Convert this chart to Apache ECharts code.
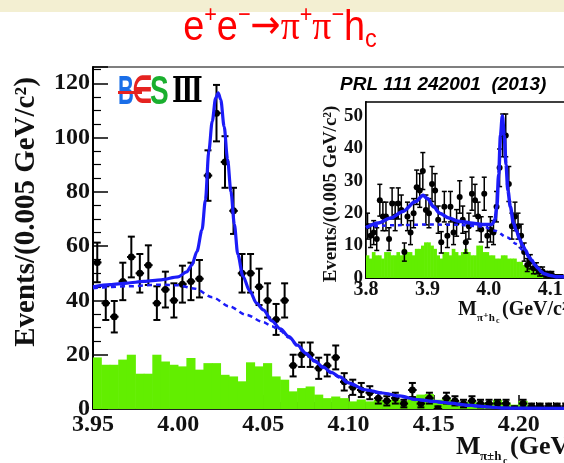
<!DOCTYPE html>
<html><head><meta charset="utf-8">
<script src="https://cdn.jsdelivr.net/npm/echarts@6/dist/echarts.min.js"></script>
<style>html,body{margin:0;padding:0;background:#fff}#c{width:564px;height:463px}</style>
</head><body><div id="c"></div>
<script>
// ---------------- main plot data ----------------
const mainMass = [3.9525,3.9575,3.9625,3.9675,3.9725,3.9775,3.9825,3.9875,3.9925,3.9975,
  4.0025,4.0075,4.0125,4.0175,4.0225,4.0275,4.0325,4.0375,4.0425,4.0475,
  4.0525,4.0575,4.0625,4.0675,4.0725,4.0775,4.0825,4.0875,4.0925,4.0975,
  4.1025,4.1075,4.1125,4.1175,4.1225,4.1275,4.1325,4.1375,4.1425,4.1475,
  4.1525,4.1575,4.1625,4.1675,4.1725,4.1775,4.1825,4.1875,4.1925,4.1975,
  4.2025,4.2075,4.2125,4.2175,4.2225,4.2275,4.2325];
const mainCounts = [54,39,34,47,56,50,53,39,44,40,
  46,47,48,86,109,91,73,50,50,45,
  40,33,40,16,20,20,15,16,19,10,
  8,7,6,4,3,4,2,7,2,4,
  0,4,3,2,3,2,2,2,2,0,
  2,1,1,1,1,1,1];
const mainErrors = [7.3,6.2,5.8,6.9,7.5,7.1,7.3,6.2,6.6,6.3,
  6.8,6.9,6.9,9.3,10.4,9.5,8.5,7.1,7.1,6.7,
  6.3,5.7,6.3,4.0,4.5,4.5,3.9,4.0,4.4,3.2,
  2.8,2.6,2.4,2.0,1.7,2.0,1.4,2.6,1.4,2.0,
  1.0,2.0,1.7,1.4,1.7,1.4,1.4,1.4,1.4,1.0,
  1.4,1.0,1.0,1.0,1.0,1.0,1.0];
const mainSidebandHist = [19.0,16.3,16.3,18.2,20.0,13.0,13.0,20.0,17.5,16.3,
  15.7,18.8,14.5,16.9,16.9,12.6,12.0,10.2,17.2,15.7,
  16.9,12.0,10.8,6.5,7.7,8.3,5.3,4.0,4.6,4.0,
  2.8,3.5,2.8,3.4,2.8,3.5,3.0,4.6,5.3,5.5,
  3.4,4.0,2.8,2.4,2.8,2.1,2.4,3.4,2.4,1.6,
  3.0,1.0,0.5,0.5,0.5,0.5,0.5];
const mainFitMass = [3.950,3.960,3.970,3.980,3.990,4.000,4.005,4.008,4.011,4.014,
  4.016,4.018,4.020,4.022,4.0235,4.025,4.027,4.029,4.031,4.033,
  4.035,4.038,4.042,4.046,4.050,4.055,4.060,4.065,4.070,4.075,
  4.080,4.085,4.090,4.095,4.100,4.110,4.120,4.130,4.140,4.150,
  4.160,4.170,4.180,4.190,4.200,4.250];
const mainFitTotal = [45.0,45.8,46.4,47.0,47.6,48.7,50.5,53,58,66,
  77,95,106,114.5,116.5,114,104,92,80,68,
  57,49,43.5,39,36.5,32.5,29.5,26.7,23.5,20.5,
  17.8,15.5,13.5,11.8,9.6,7.1,5.9,4.8,3.5,2.8,
  2.2,1.4,0.9,0.4,0.3,0.2];
const mainBkgMass = [3.950,3.970,3.990,4.000,4.010,4.020,4.030,4.040,4.050,4.055,
  4.060,4.065,4.070,4.075,4.080,4.085,4.090,4.095,4.100,4.110,
  4.120,4.130,4.140,4.150,4.160,4.170,4.180,4.190,4.200,4.250];
const mainBkgCurve = [44.5,45.2,45.8,45.6,44.3,41.2,37.8,34.7,32.0,30.5,
  28.8,26.3,23.2,20.2,17.5,15.2,13.2,11.5,9.3,6.9,
  5.7,4.6,3.3,2.6,2.0,1.2,0.8,0.3,0.2,0.1];

// ---------------- inset data ----------------
const insetMass = [3.8025,3.8075,3.8125,3.8175,3.8225,3.8275,3.8325,3.8375,3.8425,3.8475,
  3.8525,3.8575,3.8625,3.8675,3.8725,3.8775,3.8825,3.8875,3.8925,3.8975,
  3.9025,3.9075,3.9125,3.9175,3.9225,3.9275,3.9325,3.9375,3.9425,3.9475,
  3.9525,3.9575,3.9625,3.9675,3.9725,3.9775,3.9825,3.9875,3.9925,3.9975,
  4.0025,4.0075,4.0125,4.0175,4.0225,4.0275,4.0325,4.0375,4.0425,4.0475,
  4.0525,4.0575,4.0625,4.0675,4.0725,4.0775,4.0825,4.0875,4.0925,4.0975,
  4.1025,4.1075,4.1125,4.1175];
const insetCounts = [16,13,14,12,24,19,19,12,23,19,
  23,21,8,19,14,20,28,27,33,21,
  20,29,27,18,11,22,13,22,14,17,
  25,18,11,16,26,24,19,15,26,13,
  15,14,22,34,44,44,29,16,19,16,
  13,8,4,5,3,3,2,2,1,1,
  1,0,0,0];
const insetErrors = [4.0,3.6,3.7,3.5,4.9,4.4,4.4,3.5,4.8,4.4,
  4.8,4.6,2.8,4.4,3.7,4.5,5.3,5.2,5.7,4.6,
  4.5,5.4,5.2,4.2,3.3,4.7,3.6,4.7,3.7,4.1,
  5.0,4.2,3.3,4.0,5.1,4.9,4.4,3.9,5.1,3.6,
  3.9,3.7,4.7,5.8,6.6,6.6,5.4,4.0,4.4,4.0,
  3.6,2.8,2.0,2.2,1.7,1.7,1.4,1.4,1.0,1.0,
  1.0,1.0,1.0,1.0];
const insetSidebandHist = [7,6,8,7,7,6,8,8,7,7,
  8,7,9,8,8,7,9,9,10,11,
  11,10,9,7,6,8,8,7,9,8,
  7,8,9,8,7,7,10,10,8,8,
  7,7,6,6,7,7,6,6,6,5,
  5,4,4,3,3,2,2,1,1,1,
  1,0,0,0];
const insetFitMass = [3.800,3.820,3.840,3.860,3.880,3.893,3.900,3.910,3.920,3.935,
  3.950,3.970,3.990,4.005,4.010,4.013,4.016,4.019,4.022,4.025,
  4.028,4.031,4.035,4.040,4.045,4.050,4.055,4.060,4.065,4.070,
  4.075,4.080,4.085,4.090,4.100,4.110,4.150];
const insetFitTotal = [15.5,17,18.5,20.5,23.5,25.5,24.5,22,20,18.5,
  17.5,17,16.5,16.5,18,22,32,44,50,44,
  35,27,22,17,14.5,12,10,8.5,6.5,5.5,
  4,3,2,1.3,0.8,0.4,0.2];
const insetBkgMass = [3.800,3.850,3.900,3.950,3.990,4.010,4.030,4.045,4.055,4.060,
  4.065,4.070,4.075,4.080,4.085,4.090,4.100,4.110,4.150];
const insetBkgCurve = [15.8,16.3,16.5,16.4,15.9,14.6,12.5,10.5,8.6,8.0,
  6.3,5.3,3.9,2.9,1.9,1.2,0.7,0.3,0.1];

// tick labels
const mainXTickFmt = v => v.toFixed(2);
const insetXTickFmt = v => v.toFixed(1);

const BIN = 0.005;
const GREEN = '#62ee00';
const BLUE = '#1c1cf8';
const SERIF = '"Liberation Serif", "DejaVu Serif", serif';

function histItem(params, api) {
  const m = api.value(0), v = api.value(1);
  const a = api.coord([m - BIN / 2, 0]);
  const b = api.coord([m + BIN / 2, v]);
  return { type: 'rect', shape: { x: a[0] - 0.3, y: b[1], width: b[0] - a[0] + 0.6, height: a[1] - b[1] },
    style: { fill: GREEN } };
}
function errItem(lw, cap, r) {
  return function (params, api) {
    const m = api.value(0), v = api.value(1), e = api.value(2);
    const c = api.coord([m, v]);
    const l = api.coord([m - BIN / 2, v]);
    const rr = api.coord([m + BIN / 2, v]);
    const t = api.coord([m, v + e]);
    const b = api.coord([m, v - e]);
    const st = { stroke: '#000', lineWidth: lw };
    return { type: 'group', children: [
      { type: 'line', shape: { x1: l[0], y1: c[1], x2: rr[0], y2: c[1] }, style: st },
      { type: 'line', shape: { x1: c[0], y1: t[1], x2: c[0], y2: b[1] }, style: st },
      { type: 'line', shape: { x1: c[0] - cap, y1: t[1], x2: c[0] + cap, y2: t[1] }, style: st },
      { type: 'line', shape: { x1: c[0] - cap, y1: b[1], x2: c[0] + cap, y2: b[1] }, style: st },
      { type: 'circle', shape: { cx: c[0], cy: c[1], r: r }, style: { fill: '#000' } }
    ]};
  };
}

function lbl(size, extra) {
  return Object.assign({ fontSize: size, fontWeight: 'bold', fontFamily: SERIF, color: '#111' }, extra);
}

const chart = echarts.init(document.getElementById('c'), null, { renderer: 'canvas' });
const axisCommon = { type: 'value', splitLine: { show: false } };
chart.setOption({
  animation: false,
  backgroundColor: '#fff',
  grid: [
    { left: 93, top: 67, right: -40, bottom: 54, show: true, borderColor: '#555', borderWidth: 1.5, outerBoundsMode: 'none' },
    { left: 366, top: 102, right: -17, bottom: 185, show: true, backgroundColor: '#fff', borderColor: '#000', borderWidth: 1.5, z: 5, outerBoundsMode: 'none' }
  ],
  xAxis: [
    Object.assign({}, axisCommon, { gridIndex: 0, min: 3.95, max: 4.25, interval: 0.05,
      axisLine: { lineStyle: { color: '#222', width: 2 } },
      axisTick: { inside: true, length: 14, lineStyle: { color: '#000', width: 1.5 } },
      minorTick: { show: true, splitNumber: 5, length: 7, lineStyle: { color: '#000' } },
      axisLabel: lbl(24, { formatter: mainXTickFmt, margin: 4, showMaxLabel: false }) }),
    Object.assign({}, axisCommon, { gridIndex: 1, min: 3.8, max: 4.15, interval: 0.1,
      axisLine: { lineStyle: { color: '#111', width: 2 } },
      axisTick: { inside: true, length: 8, lineStyle: { color: '#000' } },
      minorTick: { show: true, splitNumber: 5, length: 4, lineStyle: { color: '#000' } },
      axisLabel: lbl(20, { formatter: insetXTickFmt, margin: 2, showMaxLabel: false }) })
  ],
  yAxis: [
    Object.assign({}, axisCommon, { gridIndex: 0, min: 0, max: 126, interval: 20,
      axisLine: { lineStyle: { color: '#000', width: 2 } },
      axisTick: { inside: true, length: 15, lineStyle: { color: '#000', width: 1.5 } },
      minorTick: { show: true, splitNumber: 4, length: 8, lineStyle: { color: '#000', width: 1.2 } },
      axisLabel: lbl(24, { margin: 3, showMaxLabel: false }) }),
    Object.assign({}, axisCommon, { gridIndex: 1, min: 0, max: 54.3, interval: 10,
      axisLine: { lineStyle: { color: '#000', width: 2 } },
      axisTick: { inside: true, length: 8, lineStyle: { color: '#000' } },
      minorTick: { show: true, splitNumber: 2, length: 4, lineStyle: { color: '#000' } },
      axisLabel: lbl(19, { margin: 3, showMaxLabel: false }) })
  ],
  series: [
    { type: 'custom', xAxisIndex: 0, yAxisIndex: 0, clip: true, z: 2, silent: true,
      renderItem: histItem, data: mainMass.map((m, i) => [m, mainSidebandHist[i]]) },
    { type: 'custom', xAxisIndex: 0, yAxisIndex: 0, clip: true, z: 3, silent: true,
      renderItem: errItem(2, 3.5, 3.5), data: mainMass.map((m, i) => [m, mainCounts[i], mainErrors[i]]) },
    { type: 'line', xAxisIndex: 0, yAxisIndex: 0, z: 4, symbol: 'none', smooth: 0.3, smoothMonotone: 'x',
      lineStyle: { color: BLUE, width: 2.5, type: [5, 4] }, data: mainBkgMass.map((m, i) => [m, mainBkgCurve[i]]) },
    { type: 'line', xAxisIndex: 0, yAxisIndex: 0, z: 5, symbol: 'none', smooth: 0.3, smoothMonotone: 'x',
      lineStyle: { color: BLUE, width: 3.2 }, data: mainFitMass.map((m, i) => [m, mainFitTotal[i]]) },

    { type: 'custom', xAxisIndex: 1, yAxisIndex: 1, clip: true, z: 6, silent: true,
      renderItem: histItem, data: insetMass.map((m, i) => [m, insetSidebandHist[i]]) },
    { type: 'custom', xAxisIndex: 1, yAxisIndex: 1, clip: true, z: 7, silent: true,
      renderItem: errItem(1.5, 2.5, 3), data: insetMass.map((m, i) => [m, insetCounts[i], insetErrors[i]]) },
    { type: 'line', xAxisIndex: 1, yAxisIndex: 1, z: 8, symbol: 'none', smooth: 0.3, smoothMonotone: 'x',
      lineStyle: { color: BLUE, width: 2.5, type: [4, 4] }, data: insetBkgMass.map((m, i) => [m, insetBkgCurve[i]]) },
    { type: 'line', xAxisIndex: 1, yAxisIndex: 1, z: 9, symbol: 'none', smooth: 0.3, smoothMonotone: 'x',
      lineStyle: { color: BLUE, width: 3.5 }, data: insetFitMass.map((m, i) => [m, insetFitTotal[i]]) }
  ],
  graphic: [
    { type: 'rect', shape: { x: 0, y: 0, width: 564, height: 12 }, style: { fill: '#f3efd2' }, z: 0 },
    { type: 'text', x: 280, y: 28, scaleX: 0.9, style: {
        text: '{b|e}{sup|+}{b|e}{sup|−}{a|→}{p|π}{sup|+}{p|π}{sup|−}{b|h}{sub|c}',
        align: 'center', verticalAlign: 'middle', fill: '#f00',
        rich: {
          b: { font: '42px "Liberation Sans"', fill: '#f00', lineHeight: 50 },
          a: { font: '40px "DejaVu Sans"', fill: '#f00', lineHeight: 50 },
          p: { font: '42px "Liberation Serif"', fill: '#f00', lineHeight: 50 },
          sup: { font: '24px "Liberation Sans"', fill: '#f00', lineHeight: 40, verticalAlign: 'top' },
          sub: { font: '26px "Liberation Sans"', fill: '#f00', lineHeight: 20, verticalAlign: 'bottom' }
        } } },
    // BESIII logo
    { type: 'text', x: 118, y: 93, scaleX: 0.55, z: 10, style: { text: 'B', font: 'bold 40px "Liberation Sans"', fill: '#1a6ee8', verticalAlign: 'middle' } },
    { type: 'text', x: 132, y: 93, scaleX: 0.6, z: 10, style: { text: '∈', font: 'bold 38px "DejaVu Sans"', fill: '#e52320', verticalAlign: 'middle' } },
    { type: 'text', x: 150, y: 93, scaleX: 0.7, z: 10, style: { text: 'S', font: 'bold 40px "Liberation Sans"', fill: '#1aaf2e', verticalAlign: 'middle' } },
    { type: 'text', x: 172, y: 93, scaleX: 0.7, z: 10, style: { text: 'Ⅲ', font: 'bold 36px "DejaVu Serif"', fill: '#000', verticalAlign: 'middle' } },
    { type: 'rect', z: 11, shape: { x: 118, y: 91, width: 24, height: 3 }, style: { fill: '#e52320' } },
    // PRL reference
    { type: 'text', x: 340, y: 85, z: 10, style: { text: 'PRL 111 242001  (2013)', font: 'italic bold 19px "Liberation Sans"', fill: '#000', verticalAlign: 'middle' } },
    // main y title
    { type: 'text', x: 27, y: 212, rotation: Math.PI / 2, style: { text: 'Events/(0.005 GeV/c²)', font: 'bold 29px ' + SERIF, fill: '#111', align: 'center', verticalAlign: 'middle' } },
    // main x title
    { type: 'text', x: 456, y: 447, style: { text: 'M', font: 'bold 26px ' + SERIF, fill: '#111', verticalAlign: 'middle' } },
    { type: 'text', x: 480, y: 457, style: { text: 'π±h', font: 'bold 13px ' + SERIF, fill: '#111', verticalAlign: 'middle' } },
    { type: 'text', x: 503, y: 461, style: { text: 'c', font: 'bold 10px ' + SERIF, fill: '#111', verticalAlign: 'middle' } },
    { type: 'text', x: 510, y: 447, style: { text: '(GeV/c²)', font: 'bold 26px ' + SERIF, fill: '#111', verticalAlign: 'middle' } },
    // inset y title
    { type: 'text', x: 331, y: 194, rotation: Math.PI / 2, z: 10, style: { text: 'Events/(0.005 GeV/c²)', font: 'bold 19px ' + SERIF, fill: '#111', align: 'center', verticalAlign: 'middle' } },
    // inset x title
    { type: 'text', x: 458, y: 310, z: 10, style: { text: 'M', font: 'bold 20px ' + SERIF, fill: '#111', verticalAlign: 'middle' } },
    { type: 'text', x: 477, y: 318, z: 10, style: { text: 'π⁺h', font: 'bold 11px ' + SERIF, fill: '#111', verticalAlign: 'middle' } },
    { type: 'text', x: 496, y: 321, z: 10, style: { text: 'c', font: 'bold 8px ' + SERIF, fill: '#111', verticalAlign: 'middle' } },
    { type: 'text', x: 502, y: 310, z: 10, style: { text: '(GeV/c²)', font: 'bold 20px ' + SERIF, fill: '#111', verticalAlign: 'middle' } }
  ]
});
</script></body></html>
